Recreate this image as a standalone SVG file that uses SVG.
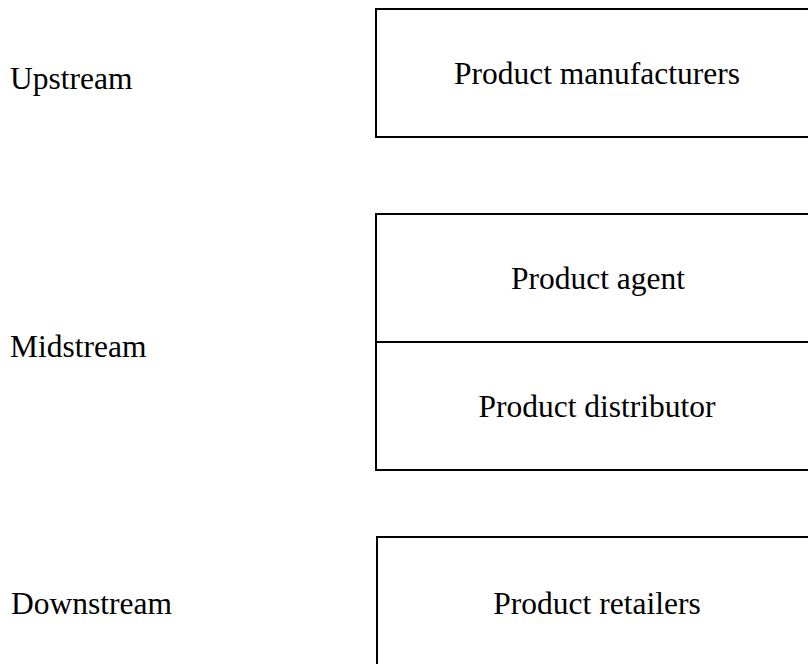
<svg xmlns="http://www.w3.org/2000/svg" width="808" height="664" viewBox="0 0 808 664">
<style>
text{font-family:"Liberation Serif","Times New Roman",serif;font-size:31.5px;fill:#000}
.c{text-anchor:middle}
.b{fill:#fff;stroke:#000;stroke-width:2}
</style>
<rect width="808" height="664" fill="#fff"/>
<g id="labels">
<text x="10" y="89">Upstream</text>
<text x="10" y="357">Midstream</text>
<text x="11" y="614">Downstream</text>
</g>
<g id="manufacturers">
<rect class="b" x="376" y="9" width="440" height="128"/>
<text class="c" x="597" y="84">Product manufacturers</text>
</g>
<g id="midstream">
<rect class="b" x="376" y="214" width="440" height="256"/>
<line x1="376" y1="342" x2="816" y2="342" stroke="#000" stroke-width="2"/>
<text class="c" x="598" y="289">Product agent</text>
<text class="c" x="597" y="417">Product distributor</text>
</g>
<g id="retailers">
<rect class="b" x="377" y="537" width="440" height="140"/>
<text class="c" x="597" y="614">Product retailers</text>
</g>
<g id="connectors"></g>
</svg>
